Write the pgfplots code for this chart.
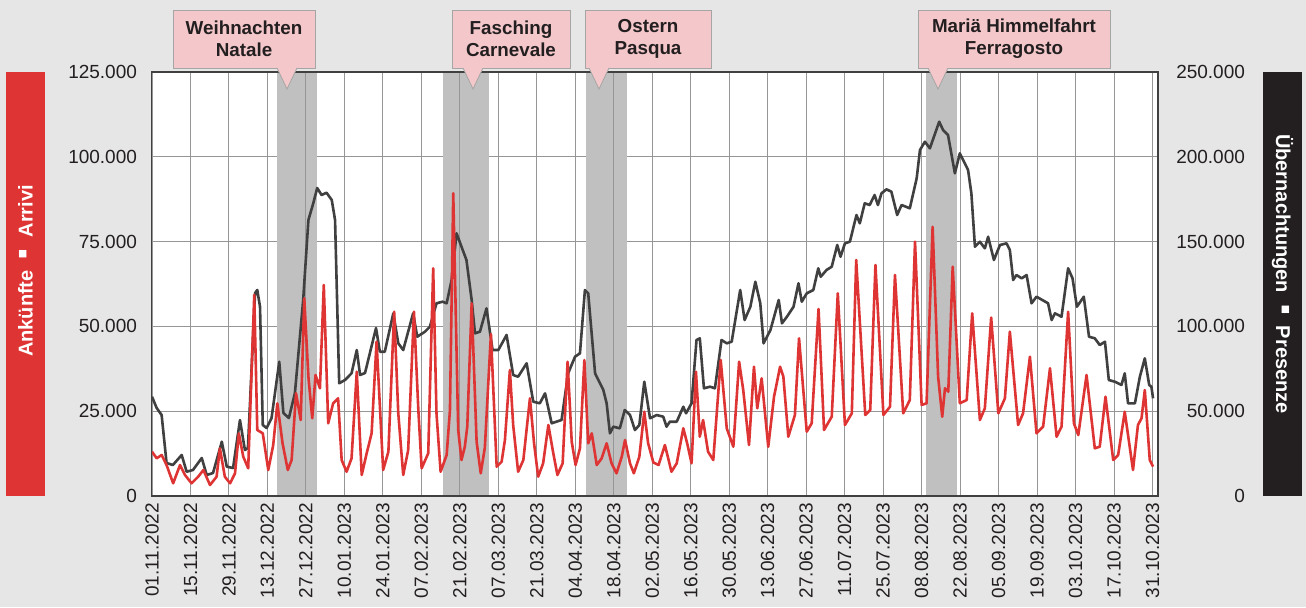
\documentclass[border=0pt]{standalone}
\usepackage{fontspec}
\setmainfont{Liberation Sans}
\usepackage{pgfplots}
\pgfplotsset{compat=1.18}
\usepackage{pgfplotstable}

\definecolor{bgc}{RGB}{230,230,230}
\definecolor{redc}{RGB}{222,52,52}
\definecolor{darkc}{RGB}{64,64,64}
\definecolor{boxblk}{RGB}{35,31,32}
\definecolor{bandc}{RGB}{192,192,192}
\definecolor{pinkc}{RGB}{244,200,202}
\definecolor{gridc}{RGB}{150,150,150}
\definecolor{txtc}{RGB}{35,31,32}
\definecolor{cobord}{RGB}{165,165,165}

% Ankuenfte (left axis), day index from 01.11.2022
\pgfplotstableread{
d v
0 13060
1.7 11110
3.5 12090
5.3 9140
7.7 3740
10.2 9140
12 6190
14.4 3740
16.8 5690
18.7 7660
21.1 3240
23.5 5690
24.7 14060
26.5 5690
28.4 3740
30.2 6690
31.6 18480
33.2 11590
35 8170
37.2 59250
38.3 19460
40.3 18480
42.3 7660
44.1 15030
45.6 27330
47.5 15540
49.4 7660
50.8 10610
52.4 30280
54.1 22400
55.4 58280
56.9 35170
58.3 22910
59.5 35670
61.1 31750
62.5 62200
64.1 21430
65.9 27330
67.7 28800
69 10610
70.8 7160
72.6 11110
74.5 36640
76.3 6190
78.1 12590
79.9 18480
81.7 45490
84.1 7660
86 13060
88.1 54330
89.6 24380
91.4 6190
93.2 13560
95.3 54330
96.9 25350
98.1 8170
100.5 12590
102.3 67130
103.5 24380
105 7160
107.2 12090
108.4 25350
109.6 89240
111.4 19460
112.6 10610
113.8 14530
114.7 20430
116.3 56810
118.1 16010
119.6 6690
121.1 14300
123.3 47760
125.4 8640
127.2 10110
128.4 16510
130.2 37140
131.4 20930
133.2 7160
135.1 10610
137.5 28800
139 15540
140.5 5690
142.3 9640
144.2 20930
146 12590
147.5 6190
149.4 9640
151.2 39590
152.7 16010
154.1 9140
155.7 14060
157.3 40090
158.7 15540
160 18480
161.8 9140
163.6 11110
165.4 15540
167.2 9640
169 6690
170.9 11590
172.1 16510
173.9 9640
175.3 6690
177.3 11590
179.1 24850
180.5 15540
182.4 9880
184.3 9140
186.6 15030
189 7160
190.9 9640
193.3 19960
194.7 15540
196.3 9640
197.9 36640
199.3 17480
200.5 22400
202.3 13060
204.2 10610
206.9 40090
209.1 19960
211.5 14530
213.6 39590
215.1 31250
217.2 15030
219 38120
220.2 25850
221.8 34700
224.2 14530
226.3 29270
228.5 38120
229.7 35170
231.5 17480
233.9 23880
235.4 46490
238.2 18960
240 21430
242.5 55130
244.5 19460
247.3 23380
249.5 59760
252.1 20930
254.6 24380
256.2 69570
259.5 23880
261.3 25350
263.2 68100
266.1 23880
268.5 26330
270.3 65150
273.3 24380
275.7 28300
277.6 74970
280 26830
281.8 27330
284 79390
286 35170
287.5 23380
288.5 31750
289.7 30750
291.3 67600
293.9 27330
296.4 28300
298.4 53860
301.2 22400
303 25850
305.3 52620
307.9 24380
310.3 28800
312.1 48440
315.1 20930
316.9 24380
319.4 41070
321.8 18480
324.2 20430
326.7 37650
329.1 17480
330.9 20430
333.3 54330
335.4 21430
337 17980
340 35670
343 14060
344.8 14530
346.9 29270
349.7 10610
351.5 12090
353.9 24850
356.9 7660
358.7 20930
360 22910
361.2 31250
363 10610
364.2 8640
}\ankunft

% Uebernachtungen (right axis)
\pgfplotstableread{
d v
0 58550
1.7 51900
3.5 47760
5.3 19460
7.6 18280
10.8 24170
12.6 14330
14.9 15330
18.1 22400
19.9 12380
22.2 13560
25.4 32020
27.2 17280
29.5 16510
32 44810
33.8 27120
34.9 28300
37.5 119690
38.3 121460
39.3 111610
40.3 41860
41.7 40090
43.5 45990
46.3 79180
47.8 48940
49.8 45990
52 60730
55 115560
56.9 162730
58.7 172750
60.1 181600
61.7 177470
63.5 178830
65.4 174520
66.6 162730
68.1 66450
70.2 68390
72.6 72340
74.5 86080
75.7 71340
77.5 72520
81.5 99050
82.9 85080
84.7 85080
87.8 107720
89.6 90030
91.4 86080
95 107720
96.5 93920
99.3 96870
101.1 99820
103.5 113620
105.7 114560
107.2 113620
109 127350
110.8 154890
112.6 146990
114.4 139150
116.3 115560
117.5 95930
119.3 96870
121.7 110670
123.9 86080
126 86080
129 94930
131.4 71340
133.2 70340
136.3 78240
138.7 55600
141.1 54660
143 60550
145.4 42860
149 44810
151.4 72340
153.9 82130
155.7 84140
157.5 121460
158.7 119510
161.2 72340
164.2 62500
165.4 54660
166.6 36970
167.8 40860
170.2 39920
172 50710
173.9 47760
175.7 38910
177.3 41860
179.1 67390
181.2 45810
183.6 47760
186 46760
187.2 40860
188.4 43810
190.9 43810
193.3 52650
194.3 48760
196.3 54660
198.1 91980
199.3 92980
200.8 63500
203 64440
204.8 63500
207.2 91980
209.1 90030
210.9 90970
214 121460
215.6 103770
217.7 111610
219.5 126350
221.3 113620
222.5 90030
225 97870
228 115560
229.2 101820
231 105710
233.4 111610
235.2 125410
236.4 114560
238.2 119510
240.6 121460
242.4 134250
243.3 129300
245.4 133250
247.3 135190
249.3 147990
250.5 141090
252.1 148990
253.9 149940
256.3 165680
257.5 160780
259.3 172570
261.1 171570
262.9 177470
264.1 171570
265.4 178470
267.2 180830
269 179420
271.1 165680
272.7 171570
275.7 169630
278.2 187320
279.4 204000
281.2 208900
283 205000
286.4 220690
287.8 215790
289.6 212850
292.1 190260
293.9 202050
296.9 192210
298.1 178470
299.4 146990
301.2 149940
303 146040
304.2 152880
306.3 139150
308.5 147990
310.9 148990
312.1 145040
313.3 127350
314.5 130300
316.4 128350
318.2 130300
320 113620
321.8 117510
326 113620
327.3 103770
328.5 107720
330.9 105710
333.3 134250
334.9 128350
336.5 111610
339 117510
340.9 93920
343 92980
344.8 89030
346.7 90970
348.1 68390
350.3 67390
352.7 65450
353.9 72340
355.1 54660
357.6 54660
359.4 70340
361.2 81190
362.8 65450
363.6 64440
364.2 57600
}\uebernacht

\pgfplotsset{
  base/.style={
    at={(76pt,55.5pt)}, anchor=south west,
    scale only axis, width=503pt, height=212pt,
    xmin=0, xmax=366,
    xtick={0,14,...,364},
    major tick length=0pt,
    axis line style={darkc, line width=0.6pt},
    grid style={gridc, line width=0.5pt},
    scaled y ticks=false,
    tick label style={text=txtc, font=\fontsize{9.5}{11}\selectfont},
    /pgf/number format/fixed,
    /pgf/number format/precision=0,
    /pgf/number format/1000 sep={.},
    /pgf/number format/assume math mode=true,
  }
}

% callout: box centre x, half width, pointer tip x, text
\newcommand\callout[4]{%
  \node[fill=pinkc, draw=cobord, line width=0.4pt, minimum width=#2*2, minimum height=29pt,
    inner sep=1pt, align=center, text=txtc, font=\bfseries\fontsize{9.4}{11}\selectfont]
    at (#1,284pt) {#4};
  \fill[pinkc] (#3-5pt,270pt) -- (#3-5pt,269.5pt) -- (#3,259pt) -- (#3+5pt,269.5pt) -- (#3+5pt,270pt) -- cycle;
  \draw[cobord, line width=0.4pt] (#3-5pt,269.5pt) -- (#3,259pt) -- (#3+5pt,269.5pt);
}

\begin{document}
\begin{tikzpicture}
\fill[bgc] (0,0) rectangle (653pt,303.5pt);

% left axis: grid, holiday bands
\begin{axis}[base,
  axis background/.style={fill=white},
  ymin=0, ymax=125000,
  ytick={0,25000,...,125000},
  ymajorgrids, xmajorgrids,
  yticklabel style={xshift=-4pt},
  xticklabels={01.11.2022,15.11.2022,29.11.2022,13.12.2022,27.12.2022,10.01.2023,24.01.2023,07.02.2023,21.02.2023,07.03.2023,21.03.2023,04.04.2023,18.04.2023,02.05.2023,16.05.2023,30.05.2023,13.06.2023,27.06.2023,11.07.2023,25.07.2023,08.08.2023,22.08.2023,05.09.2023,19.09.2023,03.10.2023,17.10.2023,31.10.2023},
  xticklabel style={rotate=90, anchor=east},
]
\addplot[fill=bandc, draw=none] coordinates {(45.5,125000) (60,125000)} \closedcycle;
\addplot[fill=bandc, draw=none] coordinates {(105.8,125000) (122.5,125000)} \closedcycle;
\addplot[fill=bandc, draw=none] coordinates {(157.8,125000) (172.7,125000)} \closedcycle;
\addplot[fill=bandc, draw=none] coordinates {(281.5,125000) (292.7,125000)} \closedcycle;
\end{axis}

% right axis: Uebernachtungen
\begin{axis}[base,
  axis y line*=right,
  ymin=0, ymax=250000,
  ytick={0,50000,...,250000},
  xmajorgrids,
  xticklabels={},
  yticklabel style={anchor=east, xshift=47pt},
]
\addplot[darkc, line width=1.3pt, line join=round] table[x=d, y=v] {\uebernacht};
\end{axis}

% Ankuenfte on top
\begin{axis}[base, hide axis, ymin=0, ymax=125000]
\addplot[redc, line width=1.3pt, line join=round] table[x=d, y=v] {\ankunft};
\end{axis}

% callouts
\callout{122pt}{35.5pt}{143.5pt}{Weihnachten\\Natale}
\callout{255.5pt}{29.5pt}{236.5pt}{Fasching\\Carnevale}
\callout{324pt}{31.5pt}{299.5pt}{Ostern\\Pasqua}
\callout{507pt}{48pt}{469pt}{Mariä Himmelfahrt\\Ferragosto}

% side labels
\fill[redc] (3pt,55.5pt) rectangle (22.5pt,267.5pt);
\fill[boxblk] (631.5pt,55.5pt) rectangle (651pt,267.5pt);
\node[rotate=90, text=white, font=\bfseries\fontsize{10}{12}\selectfont] at (12.75pt,168pt) {Ankünfte \ \scalebox{1.5}{▪} \ Arrivi};
\node[rotate=-90, text=white, font=\bfseries\fontsize{10}{12}\selectfont] at (641.25pt,166.5pt) {Übernachtungen \ \scalebox{1.5}{▪} \ Presenze};
\end{tikzpicture}
\end{document}
